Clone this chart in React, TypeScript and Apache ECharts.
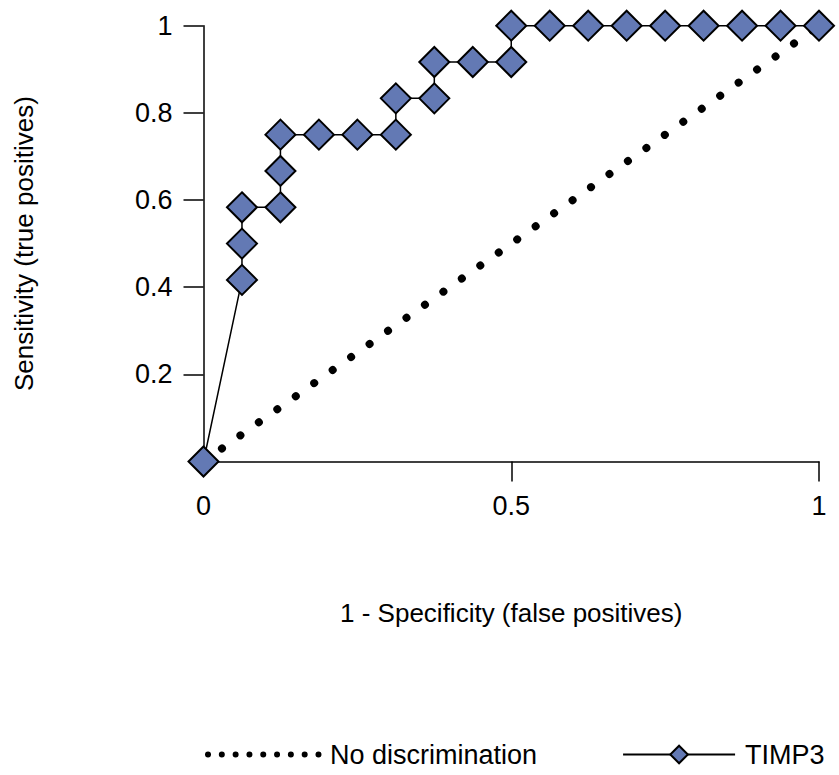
import React, { useEffect, useRef } from "react";
import * as echarts from "echarts";

const timp3X = [0, 0.0625, 0.0625, 0.0625, 0.125, 0.125, 0.125, 0.1875, 0.25, 0.3125, 0.3125, 0.375, 0.375, 0.4375, 0.5, 0.5, 0.5625, 0.625, 0.6875, 0.75, 0.8125, 0.875, 0.9375, 1];
const timp3Y = [0, 0.4167, 0.5, 0.5833, 0.5833, 0.6667, 0.75, 0.75, 0.75, 0.75, 0.8333, 0.8333, 0.9167, 0.9167, 0.9167, 1, 1, 1, 1, 1, 1, 1, 1, 1];
const diagX = [0, 1];
const diagY = [0, 1];
const xTickLabels = [0, 0.5, 1];
const xTicks = [0.5, 1];
const yTickLabels = [0.2, 0.4, 0.6, 0.8, 1];
const seriesNames = ["No discrimination", "TIMP3"];
const xTitle = "1 - Specificity (false positives)";
const yTitle = "Sensitivity (true positives)";

const FONT = "'Liberation Sans', Arial, sans-serif";

export default function App() {
  const ref = useRef<HTMLDivElement>(null);
  useEffect(() => {
    if (!ref.current) return;
    const chart = echarts.init(ref.current, undefined, { renderer: "svg" });
    chart.setOption({
      animation: false,
      textStyle: { fontFamily: FONT },
      grid: { left: 203.5, right: 20, top: 25.7, bottom: 313.5 },
      xAxis: {
        type: "value",
        min: 0,
        max: 1,
        interval: 0.5,
        name: xTitle,
        nameLocation: "middle",
        nameGap: 138,
        nameTextStyle: { fontSize: 26, color: "#000", fontFamily: FONT },
        axisLine: { lineStyle: { color: "#000", width: 1.5 } },
        axisTick: { show: true, length: 20, customValues: xTicks, lineStyle: { color: "#000", width: 1.5 } },
        axisLabel: { customValues: xTickLabels, fontSize: 27, color: "#000", margin: 31, fontFamily: FONT },
        splitLine: { show: false },
      },
      yAxis: {
        type: "value",
        min: 0,
        max: 1,
        interval: 0.2,
        name: yTitle,
        nameLocation: "middle",
        nameGap: 167,
        nameTextStyle: { fontSize: 26, color: "#000", fontFamily: FONT },
        axisLine: { show: true, lineStyle: { color: "#000", width: 1.5 } },
        axisTick: { show: true, length: 20, customValues: yTickLabels, lineStyle: { color: "#000", width: 1.5 } },
        axisLabel: { customValues: yTickLabels, fontSize: 27, color: "#000", margin: 31, fontFamily: FONT },
        splitLine: { show: false },
      },
      legend: {
        left: 205,
        top: 741,
        padding: 0,
        itemWidth: 112,
        itemHeight: 22,
        itemGap: 85,
        textStyle: { fontSize: 27, color: "#000", fontFamily: FONT, padding: [0, 0, 0, 5] },
        data: [
          {
            name: seriesNames[0],
            itemStyle: { opacity: 0 },
            lineStyle: { color: "#000", width: 6, type: [0.01, 13.8], cap: "round" },
          },
          { name: seriesNames[1] },
        ],
      },
      series: [
        {
          name: seriesNames[0],
          type: "line",
          data: diagX.map((x, i) => [x, diagY[i]]),
          symbol: "none",
          lineStyle: { color: "#000", width: 8, type: [0.01, 22.6], cap: "round" },
          itemStyle: { color: "#000" },
          z: 1,
        },
        {
          name: seriesNames[1],
          type: "line",
          data: timp3X.map((x, i) => [x, timp3Y[i]]),
          symbol: "diamond",
          symbolSize: 30,
          lineStyle: { color: "#000", width: 1.5 },
          itemStyle: { color: "#6379b4", borderColor: "#000", borderWidth: 2 },
          z: 3,
        },
      ],
    });
    return () => chart.dispose();
  }, []);
  return <div ref={ref} style={{ width: 839, height: 775, position: "absolute", left: 0, top: 0 }} />;
}
